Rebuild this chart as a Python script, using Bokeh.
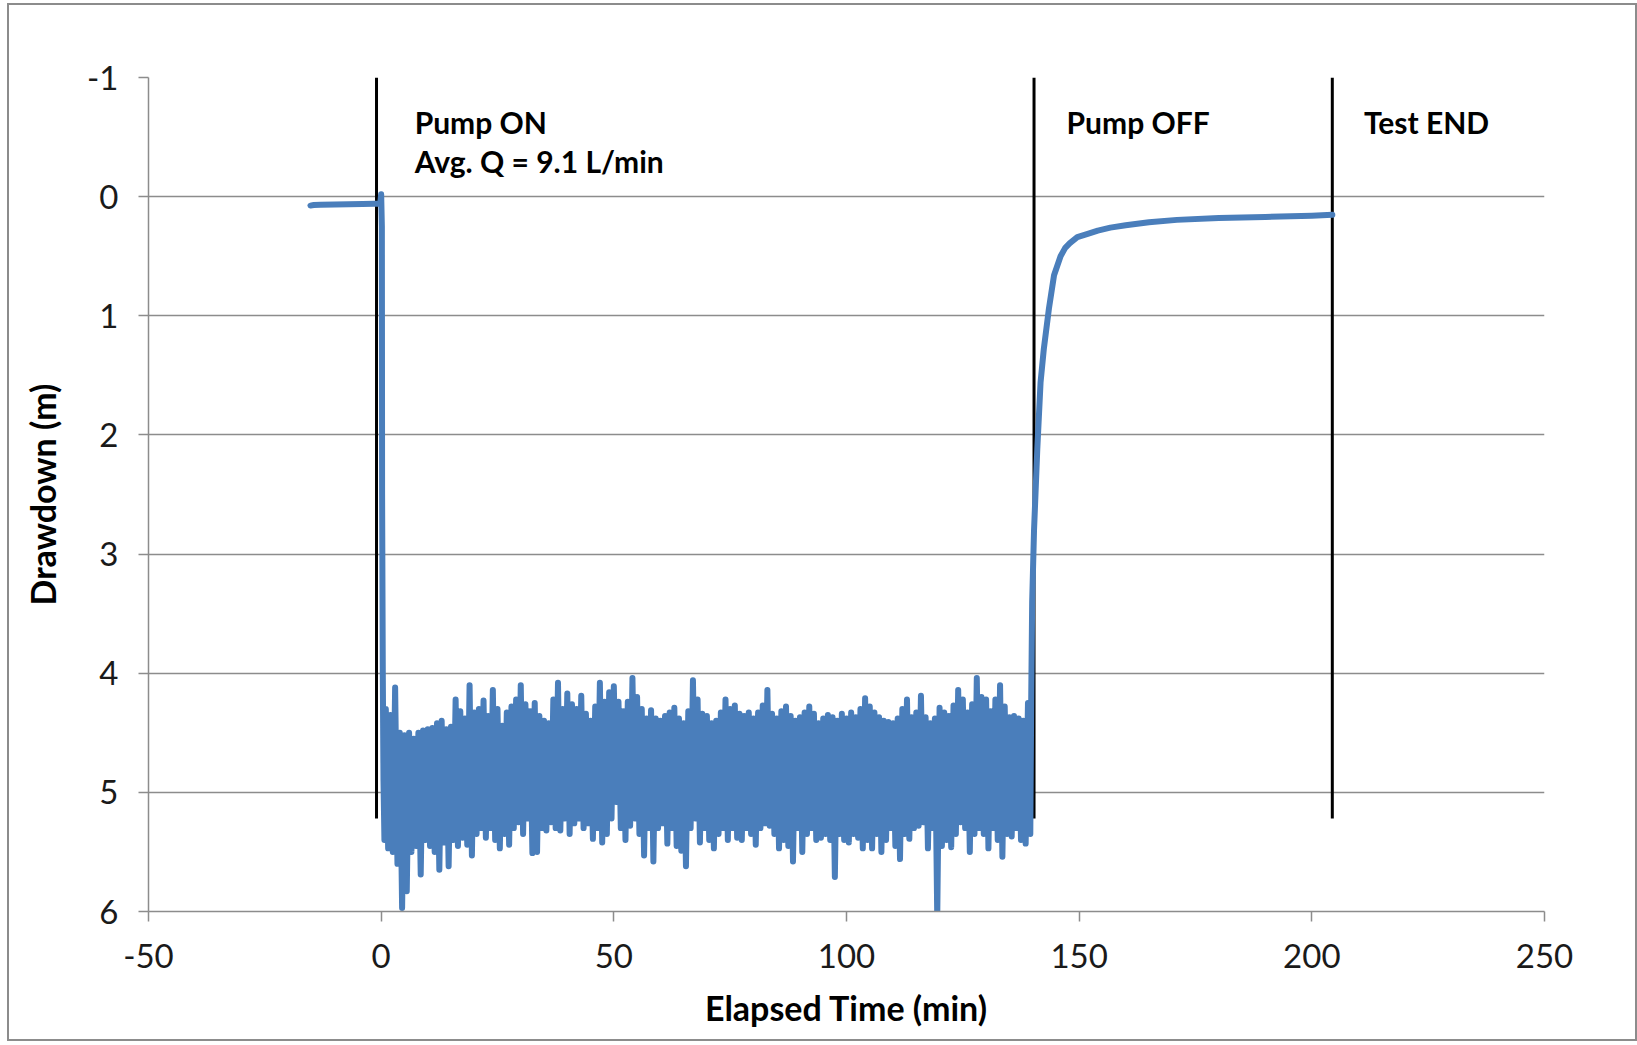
from bokeh.plotting import figure
from bokeh.models import Range1d, FixedTicker, ColumnDataSource
from bokeh.core.properties import value
from bokeh.embed import file_html
from bokeh.resources import INLINE

# ---------------- data ----------------
x_ticks = [-50, 0, 50, 100, 150, 200, 250]
y_ticks = [-1, 0, 1, 2, 3, 4, 5, 6]
x_tick_labels = {-50: "-50"}
y_tick_labels = {-1: "-1"}

# before pumping
pre_time = [-15.2, -14.5, -13.0, -10.0, -7.0, -4.0, -1.5, -0.2]
pre_dd = [0.075, 0.070, 0.068, 0.065, 0.063, 0.062, 0.060, 0.060]

# pump start drop
drop_time = [0.0, 0.15, 0.2, 0.35, 0.5, 0.7]
drop_dd = [-0.02, 0.25, 2.5, 4.0, 4.9, 5.4]

# pumping period: noisy signal, upper (x = t) and lower (x = t + 0.5) swings
noise_time = list(range(1, 140))
noise_upper = [
    4.30, 4.35, 4.12, 4.50, 4.52, 4.50, 4.55, 4.50, 4.48, 4.47,
    4.46, 4.42, 4.40, 4.47, 4.45, 4.22, 4.32, 4.38, 4.10, 4.33,
    4.30, 4.23, 4.36, 4.14, 4.30, 4.44, 4.33, 4.28, 4.22, 4.10,
    4.26, 4.32, 4.25, 4.36, 4.40, 4.42, 4.22, 4.08, 4.30, 4.17,
    4.26, 4.30, 4.19, 4.34, 4.40, 4.28, 4.08, 4.24, 4.16, 4.11,
    4.24, 4.32, 4.24, 4.04, 4.20, 4.30, 4.38, 4.31, 4.38, 4.40,
    4.36, 4.33, 4.29, 4.38, 4.42, 4.32, 4.06, 4.22, 4.34, 4.36,
    4.42, 4.40, 4.33, 4.22, 4.30, 4.27, 4.34, 4.36, 4.33, 4.38,
    4.33, 4.27, 4.14, 4.34, 4.38, 4.32, 4.28, 4.36, 4.40, 4.37,
    4.33, 4.28, 4.34, 4.42, 4.38, 4.35, 4.37, 4.40, 4.34, 4.38,
    4.33, 4.37, 4.30, 4.21, 4.28, 4.33, 4.37, 4.40, 4.41, 4.42,
    4.38, 4.30, 4.22, 4.37, 4.33, 4.19, 4.37, 4.42, 4.38, 4.29,
    4.33, 4.36, 4.27, 4.14, 4.22, 4.33, 4.26, 4.04, 4.20, 4.22,
    4.32, 4.22, 4.10, 4.28, 4.37, 4.36, 4.38, 4.40, 4.25,
]
noise_lower = [
    5.47, 5.50, 5.60, 5.97, 5.83, 5.50, 5.45, 5.69, 5.40, 5.45,
    5.50, 5.65, 5.42, 5.62, 5.40, 5.45, 5.38, 5.44, 5.53, 5.35,
    5.30, 5.38, 5.30, 5.40, 5.47, 5.35, 5.44, 5.30, 5.25, 5.35,
    5.22, 5.51, 5.50, 5.30, 5.32, 5.25, 5.30, 5.32, 5.22, 5.35,
    5.26, 5.22, 5.30, 5.26, 5.39, 5.30, 5.42, 5.35, 5.22, 5.08,
    5.30, 5.40, 5.28, 5.22, 5.35, 5.53, 5.30, 5.58, 5.30, 5.26,
    5.43, 5.30, 5.45, 5.49, 5.62, 5.30, 5.22, 5.42, 5.30, 5.40,
    5.47, 5.35, 5.30, 5.40, 5.30, 5.38, 5.40, 5.30, 5.35, 5.44,
    5.30, 5.26, 5.28, 5.35, 5.47, 5.40, 5.45, 5.58, 5.30, 5.50,
    5.35, 5.30, 5.40, 5.38, 5.35, 5.40, 5.71, 5.35, 5.40, 5.42,
    5.35, 5.38, 5.47, 5.40, 5.47, 5.35, 5.50, 5.40, 5.30, 5.45,
    5.56, 5.35, 5.39, 5.30, 5.28, 5.25, 5.47, 5.30, 6.05, 5.45,
    5.40, 5.46, 5.35, 5.25, 5.30, 5.50, 5.35, 5.30, 5.35, 5.47,
    5.30, 5.40, 5.54, 5.35, 5.37, 5.30, 5.40, 5.43, 5.35,
]

# recovery
recov_time = [139.7, 139.9, 140.3, 141.0, 141.7, 142.4, 143.5, 144.6, 146.0,
              147.0, 148.0, 149.6, 152.0, 154.0, 156.7, 160.0, 165.0, 171.0,
              180.0, 190.0, 200.0, 204.4]
recov_dd = [4.2, 3.4, 2.8, 2.12, 1.56, 1.28, 0.94, 0.66, 0.50,
            0.43, 0.39, 0.34, 0.31, 0.285, 0.26, 0.24, 0.215, 0.195,
            0.18, 0.17, 0.16, 0.153]

# event markers
event_time = [-1.0, 140.3, 204.4]
event_top = [-1.0, -1.0, -1.0]
event_bottom = [5.22, 5.22, 5.22]

label_x = [7.2, 7.2, 147.3, 211.2]
label_y = [-0.63, -0.30, -0.63, -0.63]
label_text = ["Pump ON", "Avg. Q = 9.1 L/min", "Pump OFF", "Test END"]

# ---------------- build series ----------------
t_all = list(pre_time) + list(drop_time)
d_all = list(pre_dd) + list(drop_dd)
for t, up, lo in zip(noise_time, noise_upper, noise_lower):
    t_all += [t, t + 0.5]
    d_all += [up, lo]
t_all += recov_time
d_all += recov_dd

BLUE = "#4a7ebb"
GRID = "#8c8c8c"
FONT = "Lato"

p = figure(width=1630, height=1038, output_backend="svg", toolbar_location=None,
           x_range=Range1d(-50, 250), y_range=Range1d(6, -1),
           min_border_left=139, min_border_right=95,
           min_border_top=72, min_border_bottom=132)
p.styles = {"border": "2px solid #8c8c8c", "margin-left": "7px", "margin-top": "3px"}
p.outline_line_color = None
p.background_fill_color = "white"
p.border_fill_color = "white"

p.xgrid.grid_line_color = None
p.ygrid.grid_line_color = GRID
p.ygrid.grid_line_width = 1.5

p.xaxis.ticker = FixedTicker(ticks=x_ticks)
p.yaxis.ticker = FixedTicker(ticks=y_ticks)
p.xaxis.major_label_overrides = x_tick_labels
p.yaxis.major_label_overrides = y_tick_labels
for ax in (p.xaxis, p.yaxis):
    ax.axis_line_color = GRID
    ax.axis_line_width = 1.5
    ax.major_tick_line_color = GRID
    ax.major_tick_line_width = 1.5
    ax.major_tick_out = 10
    ax.major_tick_in = 0
    ax.minor_tick_line_color = None
    ax.major_label_text_font = FONT
    ax.major_label_text_font_size = "33px"
    ax.major_label_text_color = "#1a1a1a"
    ax.axis_label_text_font = FONT
    ax.axis_label_text_font_style = "bold"
    ax.axis_label_text_font_size = "34px"
    ax.axis_label_text_color = "#000000"

p.xaxis.axis_label = "Elapsed Time (min)"
p.yaxis.axis_label = "Drawdown (m)"
p.xaxis.major_label_standoff = 22
p.yaxis.major_label_standoff = 20
p.xaxis.axis_label_standoff = 16
p.yaxis.axis_label_standoff = 21

# event lines
p.segment(x0=event_time, y0=event_top, x1=event_time, y1=event_bottom,
          line_color="black", line_width=3)

# drawdown series
p.line(t_all, d_all, line_color=BLUE, line_width=6, line_join="round", line_cap="round")

# labels
src = ColumnDataSource(dict(x=label_x, y=label_y, t=label_text))
p.text(x="x", y="y", text="t", source=src, text_font=value(FONT),
       text_font_style="bold", text_font_size="30px", text_color="black",
       text_align="left", text_baseline="middle")

open("out.html", "w").write(file_html(p, INLINE))
